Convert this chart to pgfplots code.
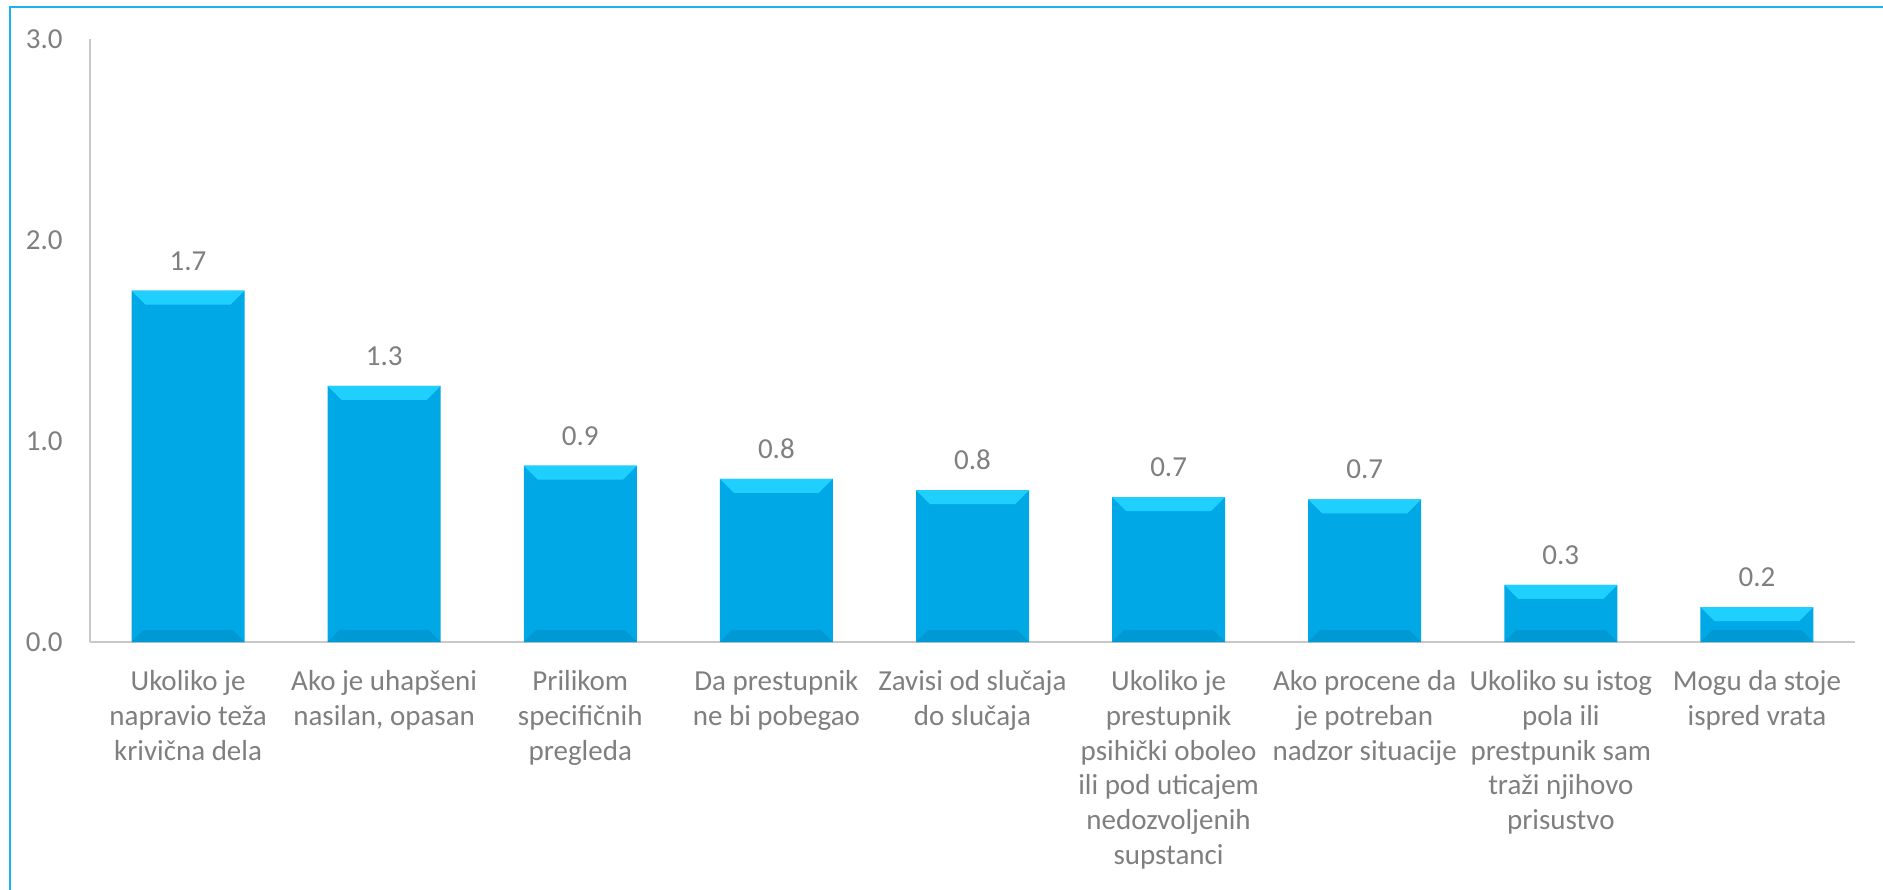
\documentclass[border=0pt]{standalone}
\usepackage{fontspec}
\setmainfont{Carlito}
\usepackage{pgfplots}
\pgfplotsset{compat=1.18}

\definecolor{barmain}{HTML}{00A8E6}
\definecolor{bartop}{HTML}{1FD0FF}
\definecolor{barbot}{HTML}{0088BE}
\definecolor{txtgray}{HTML}{7F7F7F}
\definecolor{axgray}{HTML}{C8C8C8}
\definecolor{frame}{HTML}{1AB4EC}

% bevels, half bar width 28.25pt, bevel 7pt
\pgfdeclareplotmark{bevtop}{%
  \pgfpathmoveto{\pgfqpoint{-28.25pt}{0pt}}%
  \pgfpathlineto{\pgfqpoint{28.25pt}{0pt}}%
  \pgfpathlineto{\pgfqpoint{21.25pt}{-7pt}}%
  \pgfpathlineto{\pgfqpoint{-21.25pt}{-7pt}}%
  \pgfpathclose\pgfusepath{fill}}
\pgfdeclareplotmark{bevbot}{%
  \pgfpathmoveto{\pgfqpoint{-28.25pt}{0pt}}%
  \pgfpathlineto{\pgfqpoint{28.25pt}{0pt}}%
  \pgfpathlineto{\pgfqpoint{22.25pt}{6pt}}%
  \pgfpathlineto{\pgfqpoint{-22.25pt}{6pt}}%
  \pgfpathclose\pgfusepath{fill}}

\begin{document}
\begin{tikzpicture}
\path[use as bounding box] (0,0) rectangle (941.5pt,444.5pt);
\draw[frame, line width=1.2pt] (5pt,-2pt) -- (5pt,441pt) -- (945pt,441pt);
\begin{axis}[
  at={(45pt,123.5pt)}, anchor=south west,
  scale only axis, width=882.5pt, height=301.5pt,
  xmin=-0.5, xmax=8.5, ymin=0, ymax=3,
  clip=false,
  axis x line*=bottom, axis y line*=left,
  axis line style={-, axgray, line width=1pt},
  major tick length=0pt,
  xtick={0,...,8},
  xticklabels={
    {Ukoliko je\\napravio teža\\krivična dela},
    {Ako je uhapšeni\\nasilan, opasan},
    {Prilikom\\specifičnih\\pregleda},
    {Da prestupnik\\ne bi pobegao},
    {Zavisi od slučaja\\do slučaja},
    {Ukoliko je\\prestupnik\\psihički oboleo\\ili pod uticajem\\nedozvoljenih\\supstanci},
    {Ako procene da\\je potreban\\nadzor situacije},
    {Ukoliko su istog\\pola ili\\prestpunik sam\\traži njihovo\\prisustvo},
    {Mogu da stoje\\ispred vrata}},
  xticklabel style={align=center, anchor=north, inner sep=0pt, yshift=-14pt,
    font=\fontsize{14.5}{17.4}\selectfont, text=txtgray},
  ytick={0,1,2,3},
  yticklabel style={anchor=east, inner sep=0pt, xshift=-13.5pt,
    font=\fontsize{14.5}{18}\selectfont, text=txtgray,
    /pgf/number format/.cd, fixed, fixed zerofill, precision=1, assume math mode=true},
]
\addplot[ybar, bar width=56.5pt, bar shift=0pt, draw=none, fill=barmain,
  nodes near coords={\pgfmathprintnumber[fixed,fixed zerofill,precision=1,assume math mode=true]{\pgfplotspointmeta}},
  every node near coord/.style={anchor=south, inner sep=0pt, yshift=10pt,
    font=\fontsize{14.5}{18}\selectfont, text=txtgray}]
  coordinates {(0,1.748) (1,1.274) (2,0.877) (3,0.812) (4,0.755) (5,0.721) (6,0.710) (7,0.284) (8,0.174)};
\addplot[only marks, mark=bevbot, mark options={fill=barbot, draw=none, fill opacity=0.45}]
  coordinates {(0,0) (1,0) (2,0) (3,0) (4,0) (5,0) (6,0) (7,0) (8,0)};
\addplot[only marks, mark=bevtop, mark options={fill=bartop, draw=none}]
  coordinates {(0,1.748) (1,1.274) (2,0.877) (3,0.812) (4,0.755) (5,0.721) (6,0.710) (7,0.284) (8,0.174)};
\end{axis}
\end{tikzpicture}
\end{document}
